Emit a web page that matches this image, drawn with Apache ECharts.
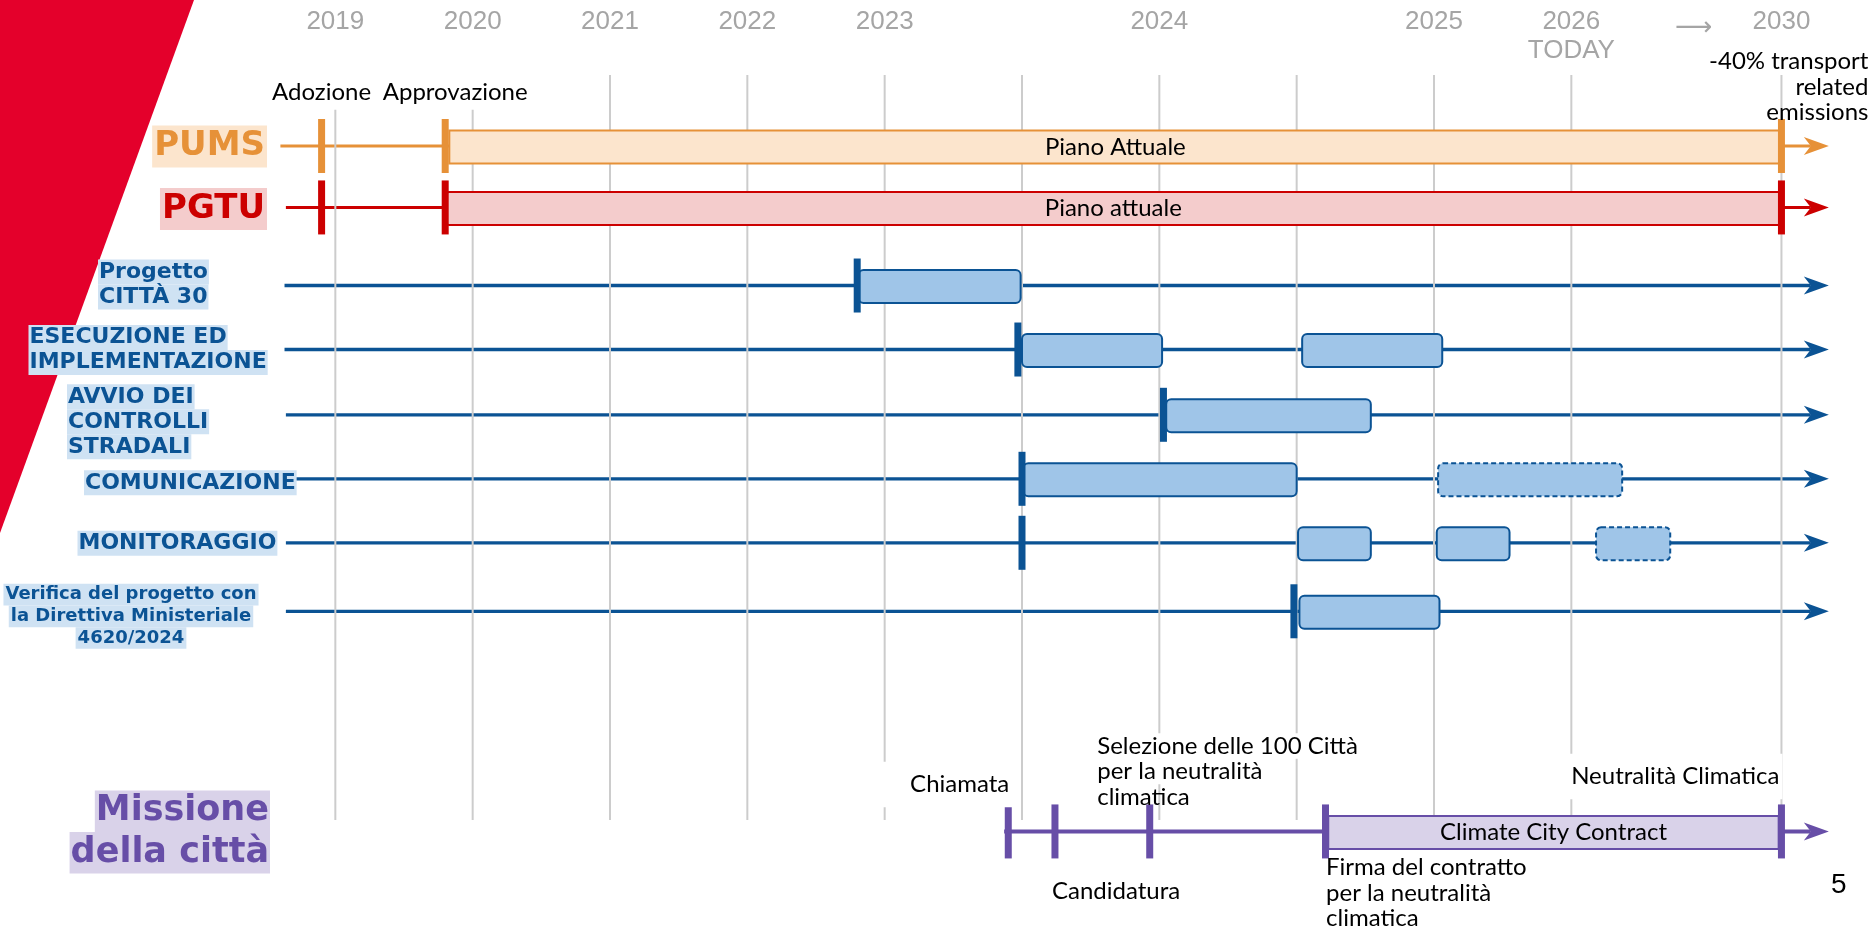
<!DOCTYPE html>
<html>
<head>
<meta charset="utf-8">
<script src="https://cdn.jsdelivr.net/npm/echarts@6/dist/echarts.min.js"></script>
<style>
  html, body { margin: 0; padding: 0; background: #ffffff; }
  #chart { width: 1874px; height: 927px; }
</style>
</head>
<body>
<div id="chart"></div>
<script>
// ---------------------------------------------------------------
// Timeline values. Horizontal positions are in "slots": one slot
// per vertical guide line of the roadmap (2019 = slot 0).
// ---------------------------------------------------------------
const tickLabels = ['2019', '2020', '2021', '2022', '2023', '2024', '2025', '2026\nTODAY', '{arr|⟶}', '2030'];
const tickSlots  = [0, 1, 2, 3, 4, 6, 8, 9, 9.89, 10.53];
const guideSlots = [0, 1, 2, 3, 4, 5, 6, 7, 8, 9, 10.53];

// Rows of the roadmap, top to bottom
const rowNames = [
  'PUMS',
  'PGTU',
  'Progetto\nCITTÀ 30',
  'ESECUZIONE ED\nIMPLEMENTAZIONE',
  'AVVIO DEI\nCONTROLLI\nSTRADALI',
  'COMUNICAZIONE',
  'MONITORAGGIO',
  'Verifica del progetto con\nla Direttiva Ministeriale\n4620/2024',
  'Missione\ndella città'
];

// Where each row's timeline starts and where its arrow ends
const lineStart = [-0.40, -0.36, -0.37, -0.37, -0.36, -0.30, -0.36, -0.36, 4.87];
const lineEnd   = [10.875, 10.875, 10.875, 10.875, 10.875, 10.875, 10.875, 10.875, 10.875];

// Milestones: [row, slot]
const milestones = [
  [0, -0.10], [0, 0.80], [0, 10.53],
  [1, -0.10], [1, 0.80], [1, 10.53],
  [2, 3.80],
  [3, 4.97],
  [4, 6.03],
  [5, 5.00],
  [6, 5.00],
  [7, 6.98],
  [8, 4.90], [8, 5.24], [8, 5.93], [8, 7.21], [8, 10.53]
];

// Milestone captions: [row, slot, text]
const captions = [
  [0, -0.10, 'Adozione'],
  [0, 0.80, 'Approvazione'],
  [0, 10.53, '-40% transport\nrelated\nemissions'],
  [8, 4.90, 'Chiamata'],
  [8, 5.24, 'Candidatura'],
  [8, 5.93, 'Selezione delle 100 Città\nper la neutralità\nclimatica'],
  [8, 7.21, 'Firma del contratto\nper la neutralità\nclimatica'],
  [8, 10.53, 'Neutralità Climatica']
];

// Phases: [row, start slot, end slot, planned (dashed), text]
const phases = [
  [0, 0.83, 10.53, 0, 'Piano Attuale'],
  [1, 0.80, 10.53, 0, 'Piano attuale'],
  [2, 3.81, 4.99, 0, ''],
  [3, 5.00, 6.02, 0, ''],
  [3, 7.04, 8.06, 0, ''],
  [4, 6.05, 7.54, 0, ''],
  [5, 5.01, 7.00, 0, ''],
  [5, 8.03, 9.37, 1, ''],
  [6, 7.01, 7.54, 0, ''],
  [6, 8.02, 8.55, 0, ''],
  [6, 9.18, 9.72, 1, ''],
  [7, 7.02, 8.04, 0, ''],
  [8, 7.23, 10.51, 0, 'Climate City Contract']
];

// ---------------------------------------------------------------
// Layout and styling
// ---------------------------------------------------------------
const laneY = [0, 0.96, 2.18, 3.18, 4.2, 5.2, 6.2, 7.27, 10.71];   // vertical lane of each row
const guideTop = -1.11, guideBottom = 10.53;                        // vertical extent of guide lines
const rowTheme = ['orange', 'red', 'blue', 'blue', 'blue', 'blue', 'blue', 'blue', 'purple'];
const themes = {
  orange: { line: '#e69138', fill: '#fce5cd', lw: 3, radius: 0 },
  red:    { line: '#cc0000', fill: '#f4cccc', lw: 3, radius: [4, 0, 0, 4] },
  blue:   { line: '#0b5394', fill: '#9fc5e8', lw: 3.3, radius: 5 },
  purple: { line: '#674ea7', fill: '#d9d2e9', lw: 4, radius: 0 }
};
const BOX_H = 33, TICK_W = 7, TICK_H = 54;

const titleStyles = {
  orange: { fontFamily: 'DejaVu Sans', fontWeight: 'bold', fontSize: 34, height: 42, lineHeight: 42, fill: '#e69138', backgroundColor: '#fce5cd', padding: [0, 2] },
  red:    { fontFamily: 'DejaVu Sans', fontWeight: 'bold', fontSize: 34, height: 42, lineHeight: 42, fill: '#cc0000', backgroundColor: '#f4cccc', padding: [0, 2] },
  blue:   { fontFamily: 'DejaVu Sans', fontWeight: 'bold', fontSize: 22, height: 25, lineHeight: 25, fill: '#0b5394', backgroundColor: '#cfe2f3', padding: [0, 1] },
  small:  { fontFamily: 'DejaVu Sans', fontWeight: 'bold', fontSize: 18, height: 21.7, lineHeight: 21.7, fill: '#0b5394', backgroundColor: '#cfe2f3', padding: [0, 2] },
  purple: { fontFamily: 'DejaVu Sans', fontWeight: 'bold', fontSize: 35, height: 41.5, lineHeight: 41.5, fill: '#674ea7', backgroundColor: '#d9d2e9', padding: [0, 1] }
};
// Row title placement: anchor x (px), alignment, vertical nudge (px), style key
const titlePlace = [
  { x: 267, align: 'right', dy: 0.5, key: 'orange' },
  { x: 267, align: 'right', dy: 1.5, key: 'red' },
  { x: 98, align: 'left', dy: -1, key: 'blue' },
  { x: 28.5, align: 'left', dy: 0.5, key: 'blue' },
  { x: 67, align: 'left', dy: 7, key: 'blue' },
  { x: 84, align: 'left', dy: 4, key: 'blue' },
  { x: 77.5, align: 'left', dy: 0.5, key: 'blue' },
  { x: 131, align: 'center', dy: 5, key: 'small' },
  { x: 270, align: 'right', dy: 0.5, key: 'purple' }
];
// Caption placement relative to its milestone
const captionPlace = [
  { dx: 0, dy: -54, align: 'center', white: true, pad: [5, 2, 5, 2] },
  { dx: 10, dy: -54, align: 'center', white: true, pad: [5, 2, 5, 2] },
  { dx: 87, dy: -59, align: 'right', white: false },
  { dx: 4, dy: -47, align: 'right', white: true, pad: [10, 3, 10, 36] },
  { dx: -3, dy: 60, align: 'left', white: false },
  { dx: -52.5, dy: -60, align: 'left', white: 'lines' },
  { dx: 0.5, dy: 61.5, align: 'left', white: false },
  { dx: 1, dy: -55, align: 'right', white: true, pad: [10, 3, 10, 3] }
];
const CAPTION_FONT = { fontFamily: 'Lato', fontSize: 24, lineHeight: 25.5, fill: '#000000' };

function tickLabel(v) {
  let best = 0;
  tickSlots.forEach((s, i) => { if (Math.abs(s - v) < Math.abs(tickSlots[best] - v)) best = i; });
  return tickLabels[best];
}
function richLines(text, key) {
  return text.split('\n').map(t => '{' + key + '|' + t + '}').join('\n');
}

const chart = echarts.init(document.getElementById('chart'), null, { renderer: 'canvas' });

const option = {
  backgroundColor: '#ffffff',
  animation: false,
  grid: { left: 198, right: 28, top: 18, bottom: 13, containLabel: false, outerBoundsMode: 'none' },
  xAxis: {
    type: 'value', min: -1, max: 11, position: 'top',
    axisLine: { show: false }, axisTick: { show: false }, splitLine: { show: false },
    axisLabel: {
      customValues: tickSlots,
      formatter: v => tickLabel(v),
      color: '#a5a5a5', fontFamily: 'Liberation Sans', fontSize: 26, lineHeight: 29,
      verticalAlign: 'top', margin: 11,
      rich: { arr: { fontFamily: 'DejaVu Sans', fontSize: 26, color: '#a5a5a5', padding: [14, 0, 0, 0] } }
    }
  },
  yAxis: { type: 'value', min: -2, max: 12, inverse: true, show: false },
  graphic: [
    {
      type: 'polygon', z: 0, silent: true,
      shape: { points: [[0, 0], [194, 0], [0, 533]] },
      style: { fill: '#e4002b' }
    },
    {
      type: 'text', z: 0, silent: true, left: 1831, top: 871,
      style: { text: '5', font: '28px "Liberation Sans"', fill: '#000000' }
    }
  ],
  series: [
    // Row timelines with arrow heads
    {
      type: 'custom', z: 1, silent: true, clip: false,
      encode: { x: [0, 2], y: 1 },
      data: rowNames.map((_, i) => [lineStart[i], laneY[i], lineEnd[i]]),
      renderItem: (params, api) => {
        const th = themes[rowTheme[params.dataIndex]];
        const a = api.coord([api.value(0), api.value(1)]);
        const b = api.coord([api.value(2), api.value(1)]);
        const L = 25, H = 9, N = 7;
        return {
          type: 'group',
          children: [
            { type: 'line', shape: { x1: a[0], y1: a[1], x2: b[0] - L + N, y2: b[1] }, style: { stroke: th.line, lineWidth: th.lw } },
            { type: 'polygon', shape: { points: [[b[0], b[1]], [b[0] - L, b[1] - H], [b[0] - L + N, b[1]], [b[0] - L, b[1] + H]] }, style: { fill: th.line } }
          ]
        };
      }
    },
    // Vertical guide lines
    {
      type: 'custom', z: 2, silent: true, clip: false,
      encode: { x: 0, y: 1 },
      data: guideSlots.map(s => [s, guideTop, guideBottom]),
      renderItem: (params, api) => {
        const a = api.coord([api.value(0), api.value(1)]);
        const b = api.coord([api.value(0), api.value(2)]);
        return { type: 'line', shape: { x1: a[0], y1: a[1], x2: b[0], y2: b[1] }, style: { stroke: '#cccccc', lineWidth: 2 } };
      }
    },
    // Phases
    {
      type: 'custom', z: 3, silent: true, clip: false,
      encode: { x: [0, 2], y: 1 },
      data: phases.map(p => [p[1], laneY[p[0]], p[2]]),
      renderItem: (params, api) => {
        const p = phases[params.dataIndex];
        const th = themes[rowTheme[p[0]]];
        const a = api.coord([api.value(0), api.value(1)]);
        const b = api.coord([api.value(2), api.value(1)]);
        const children = [{
          type: 'rect',
          shape: { x: a[0], y: a[1] - BOX_H / 2 + 1, width: b[0] - a[0], height: BOX_H, r: th.radius },
          style: { fill: th.fill, stroke: th.line, lineWidth: 2, lineDash: p[3] ? [5, 3] : null }
        }];
        if (p[4]) {
          children.push({
            type: 'text',
            style: {
              text: p[4], x: (a[0] + b[0]) / 2, y: a[1] + 1, align: 'center', verticalAlign: 'middle',
              fontFamily: 'Lato', fontSize: 24, fill: '#000000'
            }
          });
        }
        return { type: 'group', children };
      }
    },
    // Milestone markers
    {
      type: 'custom', z: 4, silent: true, clip: false,
      encode: { x: 0, y: 1 },
      data: milestones.map(m => [m[1], laneY[m[0]]]),
      renderItem: (params, api) => {
        const th = themes[rowTheme[milestones[params.dataIndex][0]]];
        const c = api.coord([api.value(0), api.value(1)]);
        return { type: 'rect', shape: { x: c[0] - TICK_W / 2, y: c[1] - TICK_H / 2, width: TICK_W, height: TICK_H }, style: { fill: th.line } };
      }
    },
    // Milestone captions
    {
      type: 'custom', z: 5, silent: true, clip: false,
      encode: { x: 0, y: 1 },
      data: captions.map(c => [c[1], laneY[c[0]]]),
      renderItem: (params, api) => {
        const cap = captions[params.dataIndex];
        const pl = captionPlace[params.dataIndex];
        const c = api.coord([api.value(0), api.value(1)]);
        const style = Object.assign({
          x: c[0] + pl.dx, y: c[1] + pl.dy, align: pl.align, verticalAlign: 'middle'
        }, CAPTION_FONT);
        if (pl.white === 'lines') {
          const lines = cap[2].split('\n');
          style.text = lines.map((t, i) => (i < lines.length - 1 ? '{w|' + t + '}' : '{p|' + t + '}')).join('\n');
          style.rich = {
            w: { fontFamily: 'Lato', fontSize: 24, lineHeight: 25.5, height: 25.5, backgroundColor: '#ffffff', fill: '#000000' },
            p: { fontFamily: 'Lato', fontSize: 24, lineHeight: 25.5, height: 25.5, fill: '#000000' }
          };
        } else {
          style.text = cap[2];
          if (pl.white) { style.backgroundColor = '#ffffff'; style.padding = pl.pad; }
        }
        return { type: 'text', style };
      }
    },
    // Row titles
    {
      type: 'custom', z: 6, silent: true, clip: false,
      encode: { x: 0, y: 1 },
      data: rowNames.map((_, i) => [0, laneY[i]]),
      renderItem: (params, api) => {
        const i = params.dataIndex;
        const pl = titlePlace[i];
        const c = api.coord([api.value(0), api.value(1)]);
        const rich = {};
        rich[pl.key] = titleStyles[pl.key];
        return {
          type: 'text',
          style: {
            text: richLines(rowNames[i], pl.key), rich,
            x: pl.x, y: c[1] + pl.dy, align: pl.align, verticalAlign: 'middle'
          }
        };
      }
    }
  ]
};

chart.setOption(option);
</script>
</body>
</html>
